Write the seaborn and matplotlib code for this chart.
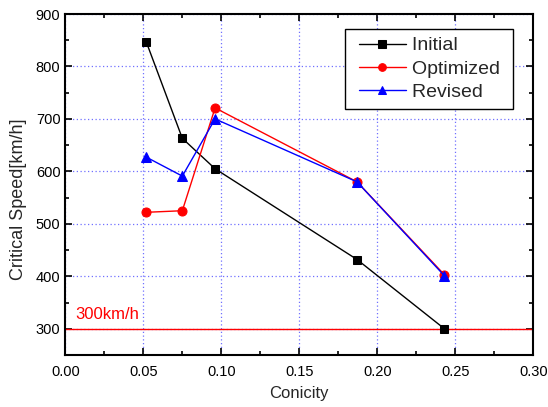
import matplotlib
matplotlib.use("Agg")
import matplotlib.pyplot as plt
import seaborn as sns
import pandas as pd
from matplotlib.ticker import MultipleLocator
from matplotlib.legend_handler import HandlerLine2D
from matplotlib.lines import Line2D

conicity = [0.052, 0.075, 0.096, 0.187, 0.243]
initial = [846, 663, 605, 432, 300]
optimized = [522, 525, 721, 580, 403]
revised = [627, 591, 700, 580, 401]
series_names = ["Initial", "Optimized", "Revised"]
limit_value = 300
limit_label = "300km/h"

sns.set_style("ticks")
plt.rcParams["font.family"] = ["Liberation Sans", "DejaVu Sans"]

fig = plt.figure(figsize=(5.48, 4.07), dpi=100)
ax = fig.add_axes([0.1192, 0.1278, 0.8540, 0.8378])

styles = {
    "Initial": dict(color="black", marker="s", markersize=6),
    "Optimized": dict(color="red", marker="o", markersize=6.5),
    "Revised": dict(color="blue", marker="^", markersize=7.5),
}
for name, vals in zip(series_names, [initial, optimized, revised]):
    df = pd.DataFrame({"Conicity": conicity, "Speed": vals})
    st = styles[name]
    sns.lineplot(data=df, x="Conicity", y="Speed", ax=ax, sort=False,
                 color=st["color"], marker=st["marker"], markersize=st["markersize"],
                 markeredgecolor=st["color"], linewidth=1.0, label=name, zorder=3)

ax.axhline(limit_value, color="red", linewidth=1.0, zorder=2)
ax.text(0.0064, 319, limit_label, color="red", fontsize=12, va="baseline", ha="left")

ax.set_xlim(0, 0.30)
ax.set_ylim(250, 900)
ax.xaxis.set_minor_locator(MultipleLocator(0.025))
ax.yaxis.set_minor_locator(MultipleLocator(50))
ax.set_xticks([0.00, 0.05, 0.10, 0.15, 0.20, 0.25, 0.30])
ax.set_xticklabels(["0.00", "0.05", "0.10", "0.15", "0.20", "0.25", "0.30"])
ax.set_yticks([300, 400, 500, 600, 700, 800, 900])

ax.grid(True, which="major", color="#7070ff", linestyle=(0, (1, 2)), linewidth=0.9)
ax.set_axisbelow(True)

for s in ax.spines.values():
    s.set_linewidth(1.5)
    s.set_color("black")
ax.tick_params(which="both", direction="in", top=True, right=True, labelsize=10.5,
               width=1.2, colors="black")
ax.tick_params(which="major", length=5)
ax.tick_params(which="minor", length=3)
ax.tick_params(axis="x", pad=7)

ax.set_xlabel("Conicity", fontsize=12, labelpad=5)
ax.set_ylabel("Critical Speed[km/h]", fontsize=13)
ax.yaxis.set_label_coords(-0.082, 0.457)

handles, labels = ax.get_legend_handles_labels()
leg = ax.legend(handles, [l + " " for l in labels],
                loc="upper right", bbox_to_anchor=(0.9566, 0.956), borderaxespad=0,
                fontsize=14, frameon=True, fancybox=False, edgecolor="black", framealpha=1,
                handlelength=2.72, handletextpad=0.3, borderpad=0.4, labelspacing=0.3,
                markerscale=0.85,
                handler_map={Line2D: HandlerLine2D(xpad=0.3)})
leg.get_frame().set_linewidth(1.0)

fig.savefig("out.png", dpi=100)
